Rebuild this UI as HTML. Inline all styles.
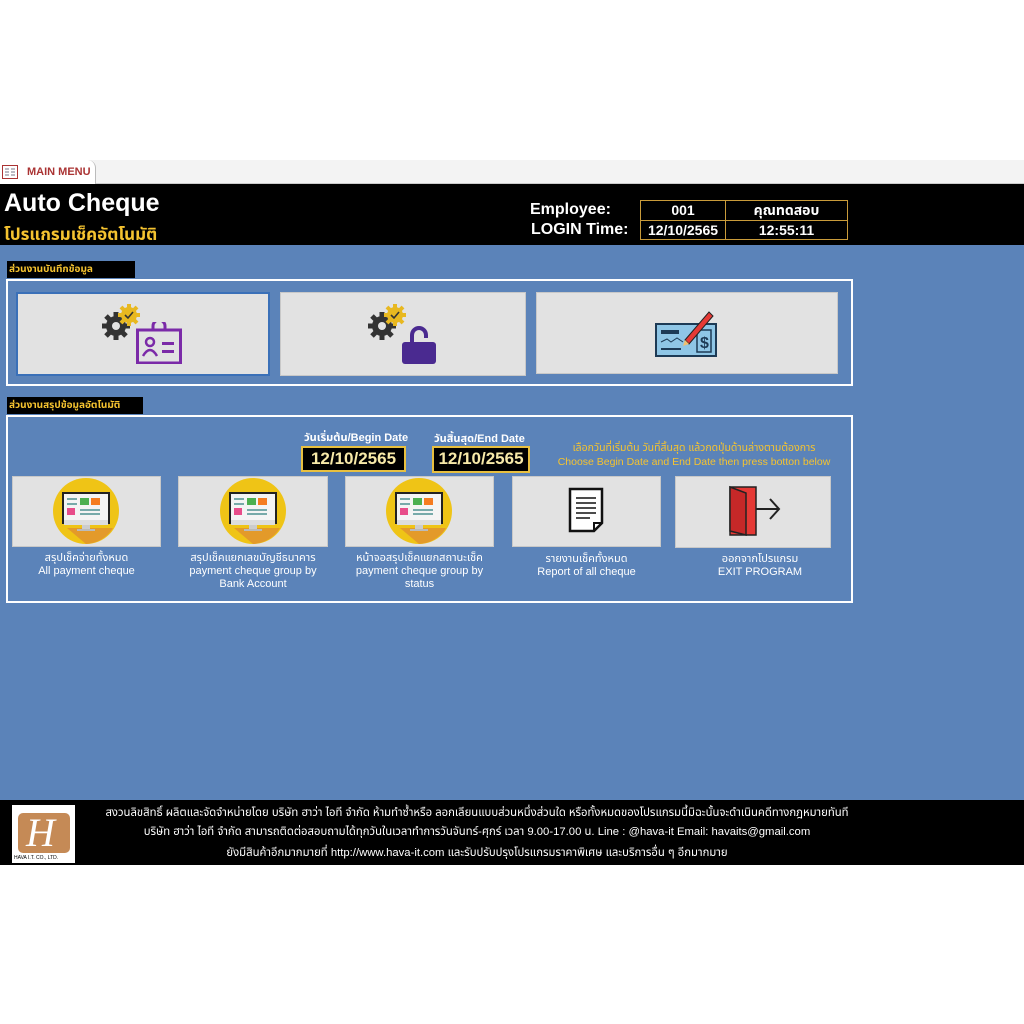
<!DOCTYPE html>
<html><head><meta charset="utf-8">
<style>
*{margin:0;padding:0;box-sizing:border-box}
body{width:1024px;height:1024px;background:#fff;position:relative;overflow:hidden;font-family:"Liberation Sans","Noto Sans Thai","Loma","Garuda",sans-serif}
.a{position:absolute}
.blue{background:#5b83b9}
.btn{position:absolute;background:#e2e2e2;border:1px solid #c8c8c8}
.lbl{position:absolute;color:#fff;font-size:11px;text-align:center;line-height:13px}
.sec{position:absolute;background:#000;color:#f5c330;font-size:10px;font-weight:bold;padding:2px 2px;line-height:13px}
.box{position:absolute;border:2px solid #fff}
.cell{position:absolute;border:1px solid #c99b3a;color:#fff;font-weight:bold;font-size:14px;text-align:center;line-height:19px}
.dt{position:absolute;background:#000;border:2px solid #e8c040;color:#f7e9a8;font-weight:bold;font-size:17px;text-align:center;line-height:22px}
.dl{position:absolute;color:#fff;font-weight:bold;font-size:11px}
.ft{position:absolute;color:#fff;font-size:11.3px;left:80px;width:794px;text-align:center;white-space:nowrap}
</style></head><body>
<svg width="0" height="0" style="position:absolute">
<defs>
<symbol id="mon" viewBox="0 0 66 66">
<circle cx="33" cy="33" r="33" fill="#efc416"/>
<path d="M14 50 L33 66 A33 33 0 0 0 60 50 Z" fill="#e39a2a"/>
<rect x="9" y="14" width="48" height="32" fill="#222"/>
<rect x="11" y="16" width="44" height="26" fill="#f4f4f4"/>
<rect x="11" y="42" width="44" height="5" fill="#ddd"/>
<rect x="14" y="20" width="10" height="2" fill="#7aa"/>
<rect x="14" y="25" width="10" height="2" fill="#7aa"/>
<rect x="27" y="20" width="9" height="7" fill="#4caf50"/>
<rect x="38" y="20" width="9" height="7" fill="#f57c20"/>
<rect x="14" y="30" width="8" height="7" fill="#e84d8a"/>
<rect x="27" y="31" width="20" height="2" fill="#7aa"/>
<rect x="27" y="35" width="20" height="2" fill="#7aa"/>
<rect x="29" y="47" width="8" height="4" fill="#ccc"/>
<rect x="24" y="51" width="18" height="2" fill="#bbb"/>
</symbol>
<symbol id="gear" viewBox="0 0 40 40">
<g fill="#333"><circle cx="14" cy="24" r="10"/><g stroke="#333" stroke-width="5"><line x1="14" y1="10" x2="14" y2="38"/><line x1="0" y1="24" x2="28" y2="24"/><line x1="4" y1="14" x2="24" y2="34"/><line x1="24" y1="14" x2="4" y2="34"/></g></g>
<circle cx="14" cy="24" r="4" fill="#e2e2e2"/>
<g fill="#e8b820"><circle cx="27" cy="13" r="8"/><g stroke="#e8b820" stroke-width="4"><line x1="27" y1="2" x2="27" y2="24"/><line x1="16" y1="13" x2="38" y2="13"/><line x1="19" y1="5" x2="35" y2="21"/><line x1="35" y1="5" x2="19" y2="21"/></g></g>
<path d="M23 13 l3 3 l5 -6" stroke="#333" stroke-width="1.6" fill="none"/>
</symbol>
</defs></svg>

<!-- tab bar -->
<div class="a" style="left:0;top:160px;width:1024px;height:24px;background:#f3f3f3;border-bottom:1px solid #ccc"></div>
<div class="a" style="left:0;top:160px;width:96px;height:25px;background:#fff;border-right:1px solid #bbb;border-top-right-radius:8px"></div>
<svg class="a" style="left:2px;top:165px" width="16" height="14"><rect x="0.5" y="0.5" width="15" height="13" fill="#fff" stroke="#a33"/><path d="M3 4h4M3 7h4M3 10h4M9 4h4M9 7h4M9 10h4" stroke="#778"/></svg>
<div class="a" style="left:27px;top:166px;font-size:11px;font-weight:bold;color:#a33">MAIN MENU</div>

<!-- header -->
<div class="a" style="left:0;top:184px;width:1024px;height:61px;background:#000"></div>
<div class="a" style="left:4px;top:189px;color:#fff;font-size:25px;font-weight:bold">Auto Cheque</div>
<div class="a" style="left:4px;top:222px;color:#f5c330;font-size:17px;font-weight:bold">โปรแกรมเช็คอัตโนมัติ</div>
<div class="a" style="left:530px;top:201px;color:#fff;font-size:16px;font-weight:bold">Employee:</div>
<div class="a" style="left:531px;top:221px;color:#fff;font-size:16px;font-weight:bold">LOGIN Time:</div>
<div class="cell" style="left:640px;top:200px;width:86px;height:21px">001</div>
<div class="cell" style="left:725px;top:200px;width:123px;height:21px">คุณทดสอบ</div>
<div class="cell" style="left:640px;top:220px;width:86px;height:20px">12/10/2565</div>
<div class="cell" style="left:725px;top:220px;width:123px;height:20px">12:55:11</div>

<!-- body -->
<div class="a blue" style="left:0;top:245px;width:1024px;height:555px"></div>

<div class="sec" style="left:7px;top:261px;width:128px;height:17px">ส่วนงานบันทึกข้อมูล</div>
<div class="box" style="left:6px;top:279px;width:847px;height:107px"></div>
<div class="btn" style="left:16px;top:292px;width:254px;height:84px;border:2px solid #3a70b8"></div>
<svg class="a" style="left:102px;top:302px" width="40" height="40"><use href="#gear"/></svg>
<svg class="a" style="left:136px;top:322px" width="46" height="42"><rect x="1.5" y="8" width="43" height="33" fill="none" stroke="#7b2aa8" stroke-width="3"/><path d="M17 8 v-4 a6 6 0 0 1 12 0 v4" fill="none" stroke="#7b2aa8" stroke-width="3"/><circle cx="14" cy="20" r="4" fill="none" stroke="#7b2aa8" stroke-width="2.5"/><path d="M7 34 q7 -12 14 0" fill="none" stroke="#7b2aa8" stroke-width="2.5"/><rect x="26" y="20" width="12" height="3" fill="#7b2aa8"/><rect x="26" y="28" width="12" height="3" fill="#7b2aa8"/></svg>

<div class="btn" style="left:280px;top:292px;width:246px;height:84px"></div>
<svg class="a" style="left:368px;top:302px" width="40" height="40"><use href="#gear"/></svg>
<svg class="a" style="left:400px;top:325px" width="38" height="40"><path d="M12 18 v-8 a7 7 0 0 1 14 0 v3" fill="none" stroke="#4a2a90" stroke-width="4"/><rect x="2" y="17" width="34" height="22" rx="3" fill="#4a2a90"/></svg>

<div class="btn" style="left:536px;top:292px;width:302px;height:82px"></div>
<svg class="a" style="left:655px;top:308px" width="64" height="50"><rect x="1" y="16" width="60" height="32" fill="#8fc6e6" stroke="#1d3a55" stroke-width="2"/><rect x="42" y="22" width="14" height="22" fill="none" stroke="#1d3a55" stroke-width="1.5"/><text x="45" y="40" font-size="16" font-weight="bold" fill="#1d3a55" font-family="Liberation Sans">$</text><rect x="6" y="22" width="18" height="4" fill="#1d3a55"/><path d="M6 34 l6 -3 l4 3 l6 -4 l6 4" stroke="#1d3a55" fill="none"/><rect x="6" y="40" width="20" height="2" fill="#1d3a55"/><path d="M30 32 L54 4 L58 8 L34 36 Z" fill="#e53935" stroke="#222" stroke-width="1"/><path d="M30 32 l-2 6 l6 -2 z" fill="#f0c070"/></svg>

<div class="sec" style="left:7px;top:397px;width:136px;height:17px">ส่วนงานสรุปข้อมูลอัตโนมัติ</div>
<div class="box" style="left:6px;top:415px;width:847px;height:188px"></div>

<div class="dl" style="left:304px;top:429px">วันเริ่มต้น/Begin Date</div>
<div class="dl" style="left:434px;top:430px">วันสิ้นสุด/End Date</div>
<div class="dt" style="left:301px;top:446px;width:105px;height:26px">12/10/2565</div>
<div class="dt" style="left:432px;top:446px;width:98px;height:27px">12/10/2565</div>
<div class="a" style="left:550px;top:441px;width:288px;text-align:center;color:#f5c330;font-size:10.5px;line-height:14px">เลือกวันที่เริ่มต้น วันที่สิ้นสุด แล้วกดปุ่มด้านล่างตามต้องการ<br>Choose Begin Date and End Date then press botton below</div>

<div class="btn" style="left:12px;top:476px;width:149px;height:71px"></div>
<svg class="a" style="left:53px;top:478px" width="66" height="66"><use href="#mon"/></svg>
<div class="btn" style="left:178px;top:476px;width:150px;height:71px"></div>
<svg class="a" style="left:220px;top:478px" width="66" height="66"><use href="#mon"/></svg>
<div class="btn" style="left:345px;top:476px;width:149px;height:71px"></div>
<svg class="a" style="left:386px;top:478px" width="66" height="66"><use href="#mon"/></svg>
<div class="btn" style="left:512px;top:476px;width:149px;height:71px"></div>
<svg class="a" style="left:568px;top:487px" width="38" height="46"><path d="M2 2 h32 v34 l-8 8 h-24 z" fill="#fff" stroke="#111" stroke-width="2.5"/><path d="M26 44 v-8 h8" fill="none" stroke="#111" stroke-width="2"/><g stroke="#111" stroke-width="1.5"><line x1="8" y1="11" x2="28" y2="11"/><line x1="8" y1="16" x2="28" y2="16"/><line x1="8" y1="21" x2="28" y2="21"/><line x1="8" y1="26" x2="28" y2="26"/><line x1="8" y1="31" x2="22" y2="31"/></g></svg>
<div class="btn" style="left:675px;top:476px;width:156px;height:72px"></div>
<svg class="a" style="left:728px;top:485px" width="54" height="52"><rect x="2" y="2" width="26" height="48" fill="#e53935" stroke="#222" stroke-width="1.5"/><path d="M2 2 L18 8 V50 L2 46 Z" fill="#c62828" stroke="#222" stroke-width="1.5"/><path d="M28 24 H50 M42 14 L51 24 L42 34" stroke="#222" stroke-width="2" fill="none"/></svg>

<div class="lbl" style="left:12px;top:552px;width:149px">สรุปเช็คจ่ายทั้งหมด<br>All payment cheque</div>
<div class="lbl" style="left:178px;top:552px;width:150px">สรุปเช็คแยกเลขบัญชีธนาคาร<br>payment cheque group by<br>Bank Account</div>
<div class="lbl" style="left:345px;top:552px;width:149px">หน้าจอสรุปเช็คแยกสถานะเช็ค<br>payment cheque group by<br>status</div>
<div class="lbl" style="left:512px;top:553px;width:149px">รายงานเช็คทั้งหมด<br>Report of all cheque</div>
<div class="lbl" style="left:675px;top:553px;width:170px">ออกจากโปรแกรม<br>EXIT PROGRAM</div>

<!-- footer -->
<div class="a" style="left:0;top:800px;width:1024px;height:65px;background:#000"></div>
<div class="a" style="left:12px;top:805px;width:63px;height:58px;background:#fff"></div>
<div class="a" style="left:18px;top:813px;width:52px;height:40px;background:#c58a56;border-radius:5px"></div>
<div class="a" style="left:26px;top:812px;color:#fff;font-size:40px;font-style:italic;font-family:'Liberation Serif',serif;line-height:42px">H</div>
<div class="a" style="left:14px;top:855px;font-size:5px;color:#000">HAVA I.T. CO., LTD.</div>
<div class="ft" style="top:805px">สงวนลิขสิทธิ์ ผลิตและจัดจำหน่ายโดย บริษัท ฮาว่า ไอที จำกัด ห้ามทำซ้ำหรือ ลอกเลียนแบบส่วนหนึ่งส่วนใด หรือทั้งหมดของโปรแกรมนี้มิฉะนั้นจะดำเนินคดีทางกฎหมายทันที</div>
<div class="ft" style="top:824px">บริษัท ฮาว่า ไอที จำกัด สามารถติดต่อสอบถามได้ทุกวันในเวลาทำการวันจันทร์-ศุกร์ เวลา 9.00-17.00 น. Line : @hava-it  Email: havaits@gmail.com</div>
<div class="ft" style="top:845px">ยังมีสินค้าอีกมากมายที่ http://www.hava-it.com และรับปรับปรุงโปรแกรมราคาพิเศษ และบริการอื่น ๆ อีกมากมาย</div>
</body></html>
